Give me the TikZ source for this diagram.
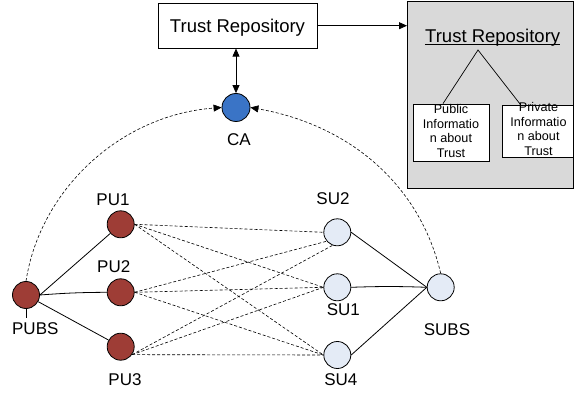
\documentclass[tikz,border=0pt]{standalone}
\usepackage{fontspec}
\setmainfont{Liberation Sans}
\usetikzlibrary{arrows.meta}
\definecolor{pubrown}{HTML}{9E3D36}
\definecolor{cablue}{HTML}{3A74C6}
\definecolor{sufill}{HTML}{E4EBF6}
\definecolor{boxgray}{HTML}{D9D9D9}
\begin{document}
\begin{tikzpicture}[x=1pt,y=-1pt,
  circ/.style={circle,draw=black,line width=0.8pt,inner sep=0pt},
  punode/.style={circ,fill=pubrown,minimum size=27pt},
  sunode/.style={circ,fill=sufill,minimum size=27pt},
  lbl/.style={font=\fontsize{17}{20}\selectfont,inner sep=0pt},
  tbox/.style={draw=black,line width=0.8pt,fill=white},
  small/.style={font=\fontsize{12.6}{14.7}\selectfont,align=center,inner sep=0pt},
  solid line/.style={line width=0.8pt},
  dline/.style={line width=0.6pt,dash pattern=on 3pt off 2pt},
  tip/.style={-{Triangle[length=8pt,width=7pt]}},
]
\useasboundingbox (0,0) rectangle (574,393);

% Trust repository box and CA
\node[tbox,minimum width=159pt,minimum height=45pt] (tr) at (237.5,25.7) {};
\node[font=\fontsize{18.5}{22}\selectfont,inner sep=0pt,anchor=base] (trt) at (237.5,32.5) {Trust Repository};
\node[circ,fill=cablue,minimum size=28pt] (ca) at (236,107.5) {};
\node[lbl] (calbl) at (239,140) {CA};

% Gray repository box
\node[draw=black,line width=0.8pt,fill=boxgray,minimum width=166pt,minimum height=187pt,anchor=north west] (big) at (407,1) {};
\node[font=\fontsize{18.5}{22}\selectfont,inner sep=0pt,anchor=base] (bigt) at (492.7,42.5) {Trust Repository};
\draw[line width=0.8pt] ([yshift=-2pt]bigt.base west) -- ([yshift=-2pt]bigt.base east);
\node[tbox,minimum width=76pt,minimum height=57pt] (pub) at (451,132.5) {};
\node[small] (pubt) at (451,131) {Public\\Informatio\\n about\\Trust};
\node[tbox,minimum width=71pt,minimum height=52pt] (priv) at (537.5,131) {};
\node[small] (privt) at (538.5,129) {Private\\Informatio\\n about\\Trust};
\coordinate (apex) at (478,50);
\draw[line width=0.7pt] ([xshift=-8pt]pub.north) -- (apex) -- ([xshift=-17pt]priv.north);

\draw[line width=0.8pt,tip] (tr.east) -- (big.west |- tr.east);
\draw[line width=0.8pt,{Triangle[length=8pt,width=7pt]}-{Triangle[length=8pt,width=7pt]}] (tr.south -| ca) -- (ca.north);

% Primary users
\node[punode] (pubs) at (26,295) {};
\node[punode] (pu1) at (120.7,224.3) {};
\node[punode] (pu2) at (120.7,292.3) {};
\node[punode] (pu3) at (120.7,346.7) {};
\node[lbl] (pubsl) at (35.3,329) {PUBS};
\node[lbl] (pu1l) at (113,199.6) {PU1};
\node[lbl] (pu2l) at (113.7,267) {PU2};
\node[lbl] (pu3l) at (125,380) {PU3};
\coordinate (tick) at (26,318);
\draw[solid line] (pubs.south) -- (tick);

% Secondary users
\node[sunode] (su2) at (337.3,232.3) {};
\node[sunode] (su1) at (337.3,287.3) {};
\node[sunode] (su4) at (337.3,355) {};
\node[sunode] (subs) at (440.7,287.3) {};
\node[lbl] (su2l) at (333,199) {SU2};
\node[lbl] (su1l) at (343.3,310) {SU1};
\node[lbl] (su4l) at (340.8,380) {SU4};
\node[lbl] (subsl) at (447,329.7) {SUBS};

% solid links
\draw[solid line] (pubs.east) -- (pu1);
\draw[solid line] (pubs.east) to[bend left=2] (pu2.west);
\draw[solid line] (pubs) -- (pu3);
\draw[solid line] (su2.east) -- (subs.west);
\draw[solid line] (su1.east) to[bend left=2] (subs.west);
\draw[solid line] (su4.east) -- (subs.west);

% dashed links
\draw[dline] (pu1.east) -- (su2.west);
\draw[dline] (pu1.east) -- (su1.west);
\draw[dline] (pu1.east) -- (su4.west);
\draw[dline] (pu2.east) -- (su2.-140);
\draw[dline] (pu2.east) -- (su1.west);
\draw[dline] (pu2.east) -- (su4.west);
\draw[dline] (pu3.-35) -- (su2.-110);
\draw[dline] (pu3.-35) -- (su1.west);
\draw[dline] (pu3.-35) -- (su4.west);

% dashed arcs to CA
\draw[dline,tip] (pubs.north) .. controls (40,190) and (120,115) .. (ca.west);
\draw[dline,tip] (subs.north) .. controls (420,185) and (350,125) .. (ca.east);
\end{tikzpicture}
\end{document}
